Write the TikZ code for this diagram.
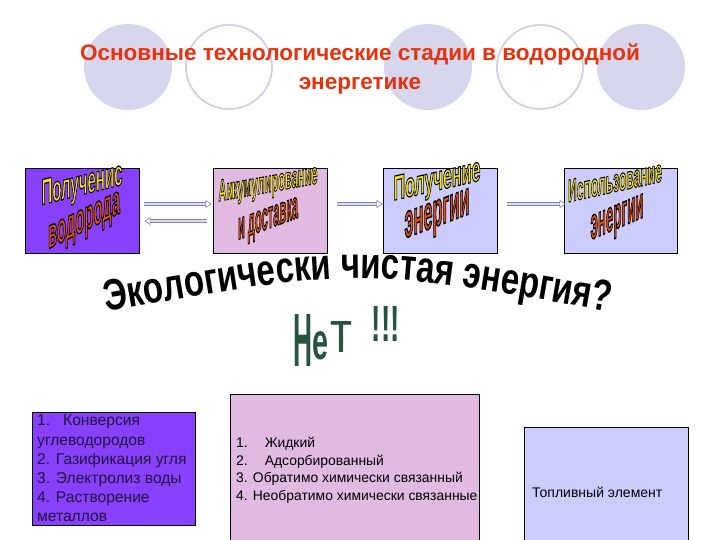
\documentclass[tikz,border=0pt]{standalone}
\usepackage{fontspec}
\setmainfont{Liberation Sans}
\newfontfamily\arcfont{Liberation Sans}[FakeStretch=0.75]
\usepackage{graphicx}
\usetikzlibrary{arrows.meta,decorations.text}
\definecolor{ellfill}{RGB}{214,214,236}
\definecolor{ringc}{RGB}{208,208,230}
\definecolor{titlered}{RGB}{230,50,15}
\definecolor{violetbox}{RGB}{136,64,252}
\definecolor{pinkbox}{RGB}{224,186,224}
\definecolor{lavbox}{RGB}{204,204,255}
\definecolor{wayellow}{RGB}{246,228,30}
\definecolor{waorange}{RGB}{215,80,20}
\definecolor{arrowfill}{RGB}{220,220,240}
\definecolor{arrowedge}{RGB}{130,130,165}
\definecolor{netgreen}{RGB}{38,84,62}
\definecolor{listtext}{RGB}{30,20,60}
\newcommand{\outlineon}{\special{pdf:literal direct 0 0 0 RG 0.35 w 2 Tr}}
\newcommand{\outlineoff}{\special{pdf:literal direct 0 Tr}}
\newcommand{\wordart}[4]{\resizebox{#1}{#2}{\bfseries\textcolor{#3}{\outlineon#4\outlineoff}}}
\begin{document}
\begin{tikzpicture}[x=1pt,y=1pt,
  ell/.style={fill=ellfill},
  ring/.style={draw=ringc, line width=1.8pt, fill=white},
  topbox/.style={draw=black, line width=0.8pt, minimum width=114pt, minimum height=85pt, inner sep=0pt},
  lowbox/.style={draw=black, line width=0.8pt, inner sep=0pt},
  wa/.style={inner sep=0pt, anchor=center},
  conn/.style={draw=arrowedge, line width=0.6pt, double=arrowfill, double distance=2.6pt, -{Triangle[open, length=6pt, width=8pt]}},
  listtxt/.style={inner sep=0pt, align=left, anchor=north west}
]
\useasboundingbox (0,0) rectangle (720,540);
\fill[white] (0,0) rectangle (720,540);
% background circles
\fill[ell] (128,473) ellipse [x radius=44, y radius=43];
\draw[ring] (229,473) ellipse [x radius=43, y radius=42];
\fill[ell] (428,473) ellipse [x radius=44, y radius=43];
\draw[ring] (540,473) ellipse [x radius=43, y radius=42];
\fill[ell] (641,473) ellipse [x radius=44, y radius=43];
% title
\node[text=titlered, font=\bfseries\fontsize{22.5}{29}\selectfont, align=center] (title) at (360,471) {Основные технологические стадии в водородной\\энергетике};
% top boxes
\node[topbox, fill=violetbox] (b1) at (82,329.5) {};
\node[topbox, fill=pinkbox] (b2) at (270,329.5) {};
\node[topbox, fill=lavbox] (b3) at (440,329.5) {};
\node[topbox, fill=lavbox, minimum width=113pt] (b4) at (620.5,329.5) {};
% wordart labels
\node[wa, yslant=0.25] (t1a) at (82,354) {\wordart{81pt}{25pt}{wayellow}{Полученис}};
\node[wa, yslant=0.5] (t1b) at (84,316) {\wordart{72pt}{23pt}{waorange}{водорода}};
\node[wa, yslant=0.18] (t2a) at (268,355) {\wordart{99pt}{21pt}{wayellow}{Аккумулирование}};
\node[wa, yslant=0.37] (t2b) at (268,318) {\wordart{60pt}{21pt}{waorange}{и доставка}};
\node[wa, yslant=0.23] (t3a) at (437,358) {\wordart{87pt}{24pt}{wayellow}{Получение}};
\node[wa, yslant=0.38] (t3b) at (437,322) {\wordart{65pt}{26pt}{waorange}{энергии}};
\node[wa, yslant=0.22] (t4a) at (615,359) {\wordart{94pt}{22pt}{wayellow}{Использование}};
\node[wa, yslant=0.43] (t4b) at (617,319) {\wordart{53pt}{24pt}{waorange}{энергии}};
% arrows
\draw[conn] ([shift={(5,6.5)}]b1.east) -- ([shift={(-1,6.5)}]b2.west);
\draw[conn] ([shift={(-6,-10.5)}]b2.west) -- ([shift={(5,-10.5)}]b1.east);
\draw[conn] ([shift={(10,6.5)}]b2.east) -- ([shift={(0,6.5)}]b3.west);
\draw[conn] ([shift={(10,6.5)}]b3.east) -- ([shift={(2,6.5)}]b4.west);
% arched text
\path[decorate, decoration={text along path, text align=center,
  text={|\arcfont\bfseries\fontsize{44}{44}\selectfont|Экологически чистая энергия?}}]
  (98,227) .. controls (359,273) .. (618,227);
% Нет !!!
\node[inner sep=0pt, anchor=base west, text=netgreen] (net) at (293,173)
  {\resizebox{19pt}{52pt}{\bfseries Н}\raisebox{7pt}{\resizebox{16pt}{28pt}{\bfseries е}}\hspace{2pt}\raisebox{14pt}{\resizebox{22pt}{31pt}{т}} \hspace{17pt}\raisebox{25pt}{\resizebox{28pt}{35pt}{\bfseries !!!}}};
% bottom boxes
\node[lowbox, fill=violetbox, minimum width=163pt, minimum height=113pt] (bA) at (113.5,71.5) {};
\node[lowbox, fill=pinkbox, minimum width=249pt, minimum height=150pt] (bB) at (354.5,71) {};
\node[lowbox, fill=lavbox, minimum width=164pt, minimum height=118pt] (bC) at (606,54) {};
\node[listtxt, text=listtext, font=\fontsize{15.6}{19.2}\selectfont] (tA) at (37,125)
  {1.\hspace{13pt}Конверсия\\углеводородов\\2. Газификация угля\\3. Электролиз воды\\4. Растворение\\металлов};
\node[listtxt, text=black, font=\fontsize{13.9}{17.7}\selectfont] (tB) at (236,103)
  {1.\hspace{17pt}Жидкий\\2.\hspace{17pt}Адсорбированный\\3. Обратимо химически связанный\\4. Необратимо химически связанные};
\node[inner sep=0pt, anchor=west, font=\fontsize{14}{16}\selectfont] (tC) at (532,48) {Топливный элемент};
\end{tikzpicture}
\end{document}
